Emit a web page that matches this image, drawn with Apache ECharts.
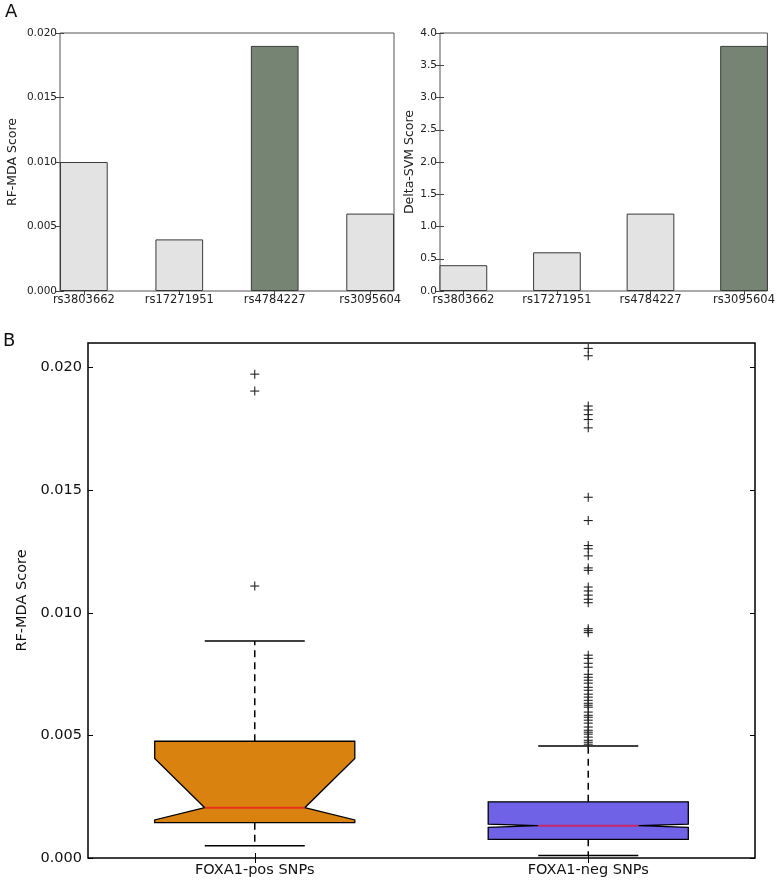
<!DOCTYPE html>
<html>
<head>
<meta charset="utf-8">
<script src="https://cdn.jsdelivr.net/npm/echarts@6/dist/echarts.min.js"></script>
<style>
html,body{margin:0;padding:0;background:#fff;}
#chart{width:778px;height:880px;}
</style>
</head>
<body>
<div id="chart"></div>
<script>
// ---------- Data ----------
const snps = ['rs3803662', 'rs17271951', 'rs4784227', 'rs3095604'];
const rfMdaScores = [0.010, 0.004, 0.019, 0.006];
const deltaSvmScores = [0.4, 0.6, 1.2, 3.8];
const rfMdaHighlight = 2;
const deltaSvmHighlight = 3;
const rfMdaTicks = [0, 0.005, 0.010, 0.015, 0.020];
const deltaSvmTicks = [0, 0.5, 1.0, 1.5, 2.0, 2.5, 3.0, 3.5, 4.0];

const groups = ['FOXA1-pos SNPs', 'FOXA1-neg SNPs'];
// [whiskerLow, Q1, notchLow, median, notchHigh, Q3, whiskerHigh]
const posStats = [0.00050, 0.00144, 0.00155, 0.00205, 0.00406, 0.00476, 0.00885];
const negStats = [0.00010, 0.00076, 0.00125, 0.00132, 0.00138, 0.00229, 0.00457];
const posOutliers = [0.01973, 0.01904, 0.01109];
const negOutliers = [0.02078, 0.02048, 0.01843, 0.01827, 0.01808, 0.01788, 0.01754,
  0.01471, 0.01376, 0.01274, 0.01261, 0.01232, 0.01183, 0.01173,
  0.01105, 0.01089, 0.01072, 0.01055, 0.01041,
  0.00935, 0.00927, 0.00919,
  0.00827, 0.00814, 0.00794, 0.00778, 0.00749, 0.00737, 0.00725, 0.00713,
  0.00696, 0.00684, 0.00668, 0.00656, 0.00643, 0.00631, 0.00623, 0.00615,
  0.00595, 0.00582, 0.00574, 0.00562, 0.00550, 0.00534, 0.00521, 0.00513,
  0.00505, 0.00493, 0.00480, 0.00472, 0.00464];
const boxTicks = [0, 0.005, 0.010, 0.015, 0.020];

// ---------- Styles ----------
const FONT = 'DejaVu Sans';
const lightBar = '#e3e3e3';
const darkBar = '#758473';
const boxFill = ['#d9820f', '#7062e6'];
const medianColor = ['#e8321a', '#c42a6a'];

const barPositions = snps.map((_, i) => i + 0.25);
const snpLabel = v => snps[Math.round(v - 0.25)] || '';

function topXAxis(gi) {
  return [{
    gridIndex: gi, type: 'value', min: 0, max: 3.5, position: 'bottom',
    axisLine: {show: false}, splitLine: {show: false},
    axisTick: {show: true, inside: true, length: 4, customValues: barPositions, lineStyle: {color: '#444'}},
    axisLabel: {customValues: barPositions, formatter: snpLabel, fontFamily: FONT, fontSize: 11.5, color: '#222', margin: 3}
  }, {
    gridIndex: gi, type: 'value', min: 0, max: 3.5, position: 'top',
    axisLine: {show: false}, splitLine: {show: false}, axisLabel: {show: false},
    axisTick: {show: true, inside: true, length: 4, customValues: barPositions, lineStyle: {color: '#444'}}
  }];
}
function topYAxis(gi, max, ticks, digits, name, gap) {
  return [{
    gridIndex: gi, type: 'value', min: 0, max: max, position: 'left',
    name: name, nameLocation: 'middle', nameGap: gap,
    nameTextStyle: {fontFamily: FONT, fontSize: 12.5, color: '#222'},
    axisLine: {show: false}, splitLine: {show: false},
    axisTick: {show: true, inside: true, length: 4, customValues: ticks, lineStyle: {color: '#444'}},
    axisLabel: {customValues: ticks, formatter: v => v.toFixed(digits), fontFamily: FONT, fontSize: 10.5, color: '#222', margin: 3}
  }, {
    gridIndex: gi, type: 'value', min: 0, max: max, position: 'right',
    axisLine: {show: false}, splitLine: {show: false}, axisLabel: {show: false},
    axisTick: {show: true, inside: true, length: 4, customValues: ticks, lineStyle: {color: '#444'}}
  }];
}

function barSeries(values, hi, xi, yi) {
  return {
    type: 'bar', xAxisIndex: xi, yAxisIndex: yi, barWidth: 47.7,
    data: values.map((v, i) => [barPositions[i], v]),
    itemStyle: {
      color: p => p.dataIndex === hi ? darkBar : lightBar,
      borderColor: '#3a3a3a', borderWidth: 1
    },
    silent: true
  };
}

const boxData = [[0].concat(posStats), [1].concat(negStats)];
const outlierData = posOutliers.map(v => [0, v]).concat(negOutliers.map(v => [1, v]));

function renderBox(params, api) {
  const ci = api.value(0);
  const v = k => api.value(k);
  const y = val => api.coord([ci, val])[1];
  const cx = api.coord([ci, v(4)])[0];
  const bw = api.size([1, 0])[0] * 0.6;
  const L = cx - bw / 2, R = cx + bw / 2;
  const nL = cx - bw / 4, nR = cx + bw / 4;
  const wl = y(v(1)), q1 = y(v(2)), nlo = y(v(3)), med = y(v(4)), nhi = y(v(5)), q3 = y(v(6)), wh = y(v(7));
  const black = '#000';
  return {
    type: 'group',
    children: [
      {type: 'line', shape: {x1: cx, y1: q3, x2: cx, y2: wh}, style: {stroke: black, lineWidth: 1.5, lineDash: [7, 5]}},
      {type: 'line', shape: {x1: cx, y1: q1, x2: cx, y2: wl}, style: {stroke: black, lineWidth: 1.5, lineDash: [7, 5]}},
      {type: 'line', shape: {x1: nL, y1: wh, x2: nR, y2: wh}, style: {stroke: black, lineWidth: 1.5}},
      {type: 'line', shape: {x1: nL, y1: wl, x2: nR, y2: wl}, style: {stroke: black, lineWidth: 1.5}},
      {type: 'polygon', shape: {points: [[L, q1], [R, q1], [R, nlo], [nR, med], [R, nhi], [R, q3], [L, q3], [L, nhi], [nL, med], [L, nlo]]},
        style: {fill: boxFill[ci], stroke: black, lineWidth: 1.3}},
      {type: 'line', shape: {x1: nL, y1: med, x2: nR, y2: med}, style: {stroke: medianColor[ci], lineWidth: 2}}
    ]
  };
}
function renderPlus(params, api) {
  const p = api.coord([api.value(0), api.value(1)]);
  const h = 4.5;
  return {
    type: 'group',
    children: [
      {type: 'line', shape: {x1: p[0] - h, y1: p[1], x2: p[0] + h, y2: p[1]}, style: {stroke: '#222', lineWidth: 1.1}},
      {type: 'line', shape: {x1: p[0], y1: p[1] - h, x2: p[0], y2: p[1] + h}, style: {stroke: '#222', lineWidth: 1.1}}
    ]
  };
}

const chart = echarts.init(document.getElementById('chart'), null, {renderer: 'canvas'});
const option = {
  animation: false,
  backgroundColor: '#fff',
  title: [
    {text: 'A', left: 0, top: -2, textStyle: {fontFamily: FONT, fontSize: 18, fontWeight: 'normal', color: '#111'}},
    {text: 'B', left: -2, top: 327, textStyle: {fontFamily: FONT, fontSize: 18, fontWeight: 'normal', color: '#111'}}
  ],
  grid: [
    {left: 60, top: 33, width: 334, height: 258, show: true, borderColor: '#555', borderWidth: 1, backgroundColor: 'transparent'},
    {left: 440, top: 33, width: 334, height: 258, show: true, borderColor: '#555', borderWidth: 1, backgroundColor: 'transparent'},
    {left: 88, top: 343, width: 667, height: 515, show: true, borderColor: '#000', borderWidth: 1.5, backgroundColor: 'transparent'}
  ],
  xAxis: topXAxis(0).concat(topXAxis(1)).concat([
    {gridIndex: 2, type: 'category', data: groups, position: 'bottom',
      axisLine: {show: false}, splitLine: {show: false},
      axisTick: {show: true, inside: true, length: 5, alignWithLabel: true, lineStyle: {color: '#000'}},
      axisLabel: {fontFamily: FONT, fontSize: 14.5, color: '#111', margin: 5}},
    {gridIndex: 2, type: 'category', data: groups, position: 'top',
      axisLine: {show: false}, splitLine: {show: false}, axisLabel: {show: false},
      axisTick: {show: true, inside: true, length: 5, alignWithLabel: true, lineStyle: {color: '#000'}}}
  ]),
  yAxis: topYAxis(0, 0.02, rfMdaTicks, 3, 'RF-MDA Score', 41)
    .concat(topYAxis(1, 4, deltaSvmTicks, 1, 'Delta-SVM Score', 22))
    .concat([
      {gridIndex: 2, type: 'value', min: 0, max: 0.021, position: 'left',
        name: 'RF-MDA Score', nameLocation: 'middle', nameGap: 56,
        nameTextStyle: {fontFamily: FONT, fontSize: 14.5, color: '#111'},
        axisLine: {show: false}, splitLine: {show: false},
        axisTick: {show: true, inside: true, length: 5, customValues: boxTicks, lineStyle: {color: '#000'}},
        axisLabel: {customValues: boxTicks, formatter: v => v.toFixed(3), fontFamily: FONT, fontSize: 14.5, color: '#111', margin: 6}},
      {gridIndex: 2, type: 'value', min: 0, max: 0.021, position: 'right',
        axisLine: {show: false}, splitLine: {show: false}, axisLabel: {show: false},
        axisTick: {show: true, inside: true, length: 5, customValues: boxTicks, lineStyle: {color: '#000'}}}
    ]),
  series: [
    barSeries(rfMdaScores, rfMdaHighlight, 0, 0),
    barSeries(deltaSvmScores, deltaSvmHighlight, 2, 2),
    {type: 'custom', xAxisIndex: 4, yAxisIndex: 4, renderItem: renderBox, data: boxData,
      encode: {x: 0, y: [1, 2, 3, 4, 5, 6, 7]}, silent: true, clip: true},
    {type: 'custom', xAxisIndex: 4, yAxisIndex: 4, renderItem: renderPlus, data: outlierData,
      encode: {x: 0, y: 1}, silent: true, clip: true}
  ]
};
chart.setOption(option);
</script>
</body>
</html>
